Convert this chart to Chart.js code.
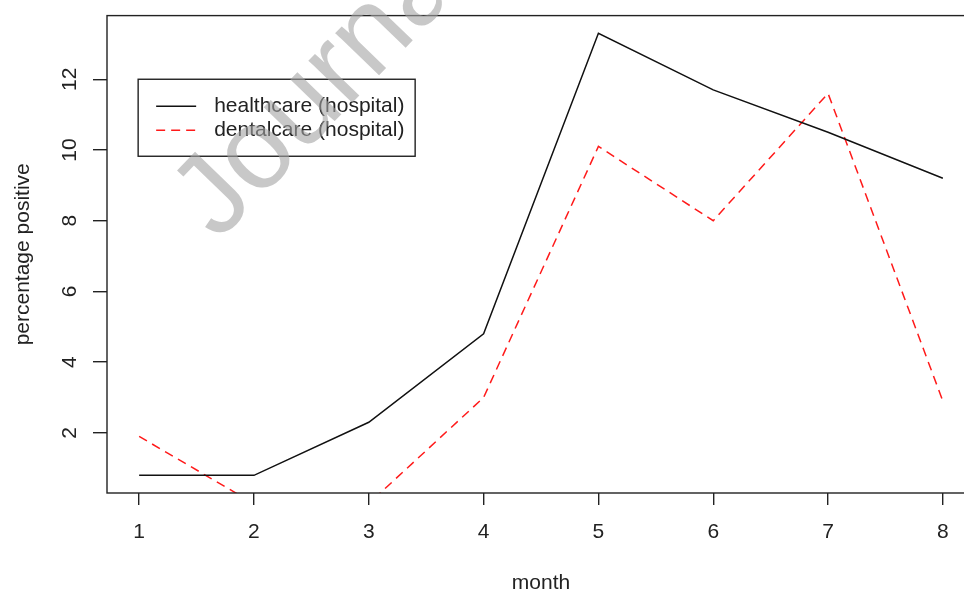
<!DOCTYPE html>
<html>
<head>
<meta charset="utf-8">
<script src="https://cdn.jsdelivr.net/npm/chart.js@4.4.0/dist/chart.umd.min.js"></script>
<style>
html, body { margin: 0; padding: 0; background: #fff; overflow: hidden; }
</style>
</head>
<body>
<canvas id="lineCanvas" width="990" height="594"></canvas>
<script>
// values
var months = [1, 2, 3, 4, 5, 6, 7, 8];
var healthcare = [0.8, 0.8, 2.3, 4.8, 13.3, 11.7, 10.5, 9.2];
var dentalcare = [1.9, 0.0, 0.0, 3.0, 10.1, 8.0, 11.6, 2.9];
var seriesLabels = ['healthcare (hospital)', 'dentalcare (hospital)'];
var xTicks = [1, 2, 3, 4, 5, 6, 7, 8];
var yTicks = [2, 4, 6, 8, 10, 12];

var FONT = '"Liberation Sans", Arial, Helvetica, sans-serif';

function pts(vals) {
	return months.map(function(m, i) { return { x: m, y: vals[i] }; });
}

// R base graphics look: box, rotated y labels, legend, watermark
var rBase = {
	id: 'rBase',
	afterDraw: function(chart) {
		var ctx = chart.ctx;
		var a = chart.chartArea;
		var xs = chart.scales.x, ys = chart.scales.y;
		ctx.save();

		ctx.strokeStyle = '#222';
		ctx.lineWidth = 1.4;
		ctx.strokeRect(a.left, a.top, a.right - a.left, a.bottom - a.top);

		ctx.fillStyle = '#222';
		ctx.font = '21px ' + FONT;
		ctx.textAlign = 'center';
		ctx.textBaseline = 'middle';
		yTicks.forEach(function(v) {
			ctx.save();
			ctx.translate(70, ys.getPixelForValue(v));
			ctx.rotate(-Math.PI / 2);
			ctx.fillText(String(v), 0, 0);
			ctx.restore();
		});

		ctx.save();
		ctx.translate(23, (a.top + a.bottom) / 2);
		ctx.rotate(-Math.PI / 2);
		ctx.fillText('percentage positive', 0, 0);
		ctx.restore();

		ctx.fillText('month', (xs.getPixelForValue(1) + xs.getPixelForValue(8)) / 2, 583);

		// legend at (1, 12)
		var lx = xs.getPixelForValue(1) - 1, ly = ys.getPixelForValue(12);
		ctx.fillStyle = '#fff';
		ctx.fillRect(lx, ly, 277, 77);
		ctx.strokeStyle = '#222';
		ctx.lineWidth = 1.4;
		ctx.strokeRect(lx, ly, 277, 77);
		chart.data.datasets.forEach(function(ds, i) {
			var ry = ly + 27 + i * 24;
			ctx.strokeStyle = ds.borderColor;
			ctx.lineWidth = 1.5;
			ctx.setLineDash(ds.borderDash || []);
			ctx.beginPath();
			ctx.moveTo(lx + 18, ry);
			ctx.lineTo(lx + 58, ry);
			ctx.stroke();
			ctx.setLineDash([]);
			ctx.fillStyle = '#222';
			ctx.textAlign = 'left';
			ctx.fillText(ds.label, lx + 76, ry);
		});

		// watermark
		ctx.save();
		ctx.translate(218, 242);
		ctx.rotate(-46 * Math.PI / 180);
		ctx.font = '115px ' + FONT;
		ctx.textAlign = 'left';
		ctx.textBaseline = 'alphabetic';
		ctx.fillStyle = 'rgba(163,163,163,0.6)';
		ctx.fillText('Journal Pre-proof', 0, 0);
		ctx.restore();

		ctx.restore();
	}
};

var config = {
	type: 'line',
	data: {
		datasets: [
			{
				label: seriesLabels[0],
				data: pts(healthcare),
				borderColor: '#111',
				borderWidth: 1.5,
				pointRadius: 0,
				tension: 0,
				fill: false
			},
			{
				label: seriesLabels[1],
				data: pts(dentalcare),
				borderColor: '#ff1a1a',
				borderWidth: 1.5,
				borderDash: [9, 6],
				pointRadius: 0,
				tension: 0,
				fill: false
			}
		]
	},
	options: {
		responsive: false,
		animation: false,
		events: [],
		layout: { padding: { top: 11, right: 15, left: 0, bottom: 0 } },
		plugins: { legend: { display: false }, tooltip: { enabled: false } },
		scales: {
			x: {
				type: 'linear',
				min: 0.72,
				max: 8.28,
				afterBuildTicks: function(s) { s.ticks = xTicks.map(function(v) { return { value: v }; }); },
				afterFit: function(s) { s.height = 101; },
				border: { display: false },
				grid: { drawOnChartArea: false, drawTicks: true, tickLength: 12, color: '#222', lineWidth: 1.4 },
				ticks: { color: '#222', font: { family: FONT, size: 21 }, padding: 15, maxRotation: 0 }
			},
			y: {
				type: 'linear',
				min: 0.3,
				max: 13.8,
				afterBuildTicks: function(s) { s.ticks = yTicks.map(function(v) { return { value: v }; }); },
				afterFit: function(s) { s.width = 107; },
				border: { display: false },
				grid: { drawOnChartArea: false, drawTicks: true, tickLength: 14, color: '#222', lineWidth: 1.4 },
				ticks: { color: 'rgba(0,0,0,0)', font: { family: FONT, size: 21 } }
			}
		}
	},
	plugins: [rBase]
};

var ctxLine = document.getElementById('lineCanvas').getContext('2d');
window.myLine = new Chart(ctxLine, config);
</script>
</body>
</html>
